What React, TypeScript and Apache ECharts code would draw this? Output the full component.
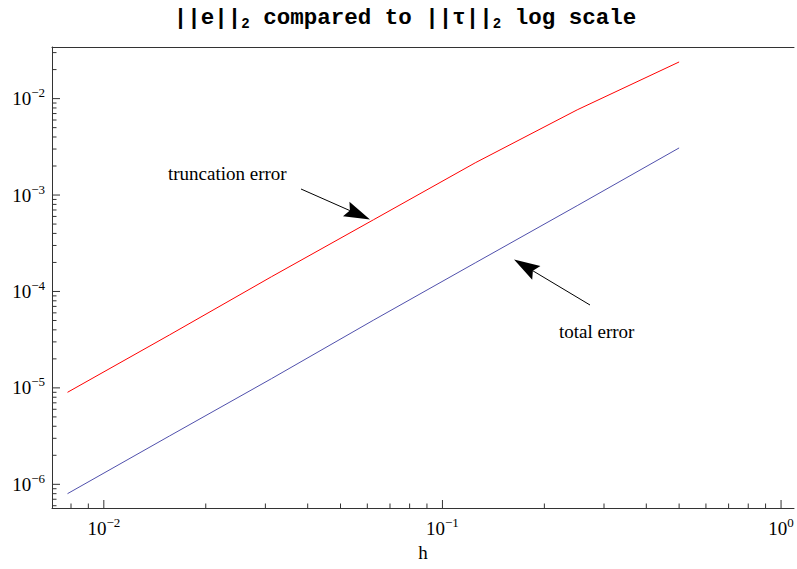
import React, { useEffect, useRef } from 'react';
import * as echarts from 'echarts';

// step sizes h and the two error norms
const H = [0.0078125, 0.015625, 0.03125, 0.0625, 0.125, 0.25, 0.5];
const TRUNCATION_ERROR = [9.0e-6, 3.54e-5, 1.42e-4, 5.53e-4, 2.16e-3, 7.65e-3, 0.024];
const TOTAL_ERROR = [8.0e-7, 3.17e-6, 1.245e-5, 5.03e-5, 1.98e-4, 7.76e-4, 3.08e-3];

const X_MIN = 0.00703;
const X_MAX = 1.092;
const Y_MIN = 5.68e-7;
const Y_MAX = 0.0343;

const X_DECADES = [0.001, 0.01, 0.1, 1];
const Y_DECADES = [1e-7, 1e-6, 1e-5, 1e-4, 1e-3, 1e-2];
const MINOR_MULTS = [2, 3, 4, 5, 6, 7, 8, 9];

const TITLE = '{m|||e||}{s|2}{m| compared to ||τ||}{s|2}{m| log scale}';
const X_NAME = 'h';
const LABEL_TRUNC = 'truncation error';
const LABEL_TOTAL = 'total error';

const AXIS_COLOR = '#333333';
const SERIF = '"Liberation Serif", "Times New Roman", serif';
const MONO = '"Liberation Mono", "Courier New", monospace';

function ticksIn(decades: number[], lo: number, hi: number) {
  const out: [number, number][] = []; // [value, length]
  decades.forEach((d) => {
    if (d >= lo && d <= hi) out.push([d, 8]);
    MINOR_MULTS.forEach((m) => {
      const v = m * d;
      if (v >= lo && v <= hi) out.push([v, 4.5]);
    });
  });
  return out;
}

const fmt = (v: number) => {
  const l = Math.log10(v);
  const r = Math.round(l);
  if (Math.abs(l - r) > 1e-6) return '';
  return `{b|10}{s|${r < 0 ? '\u2212' : ''}${Math.abs(r)}}`;
};

const labelRich = {
  b: { fontFamily: SERIF, fontSize: 19, color: '#000' },
  s: { fontFamily: SERIF, fontSize: 13, color: '#000', padding: [0, 0, 12, 0] },
};

function arrow(tail: [number, number], tip: [number, number]) {
  const dx = tip[0] - tail[0];
  const dy = tip[1] - tail[1];
  const len = Math.hypot(dx, dy);
  const ux = dx / len, uy = dy / len;
  const L = 26, W = 8;
  const bx = tip[0] - L * ux, by = tip[1] - L * uy;
  const nx = -uy, ny = ux;
  return [
    { type: 'line', shape: { x1: tail[0], y1: tail[1], x2: bx + ux * 4, y2: by + uy * 4 }, style: { stroke: '#000', lineWidth: 1 } },
    {
      type: 'polygon',
      shape: { points: [tip, [bx + W * nx, by + W * ny], [bx + ux * 4, by + uy * 4], [bx - W * nx, by - W * ny]] },
      style: { fill: '#000' },
    },
  ];
}

export default function App() {
  const ref = useRef<HTMLDivElement>(null);
  useEffect(() => {
    if (!ref.current) return;
    const chart = echarts.init(ref.current, undefined, { renderer: 'svg' });
    const xTicks = ticksIn(X_DECADES, X_MIN, X_MAX).map(([v, l]) => [v, 1e-3, l]);
    const yTicks = ticksIn(Y_DECADES, Y_MIN, Y_MAX).map(([v, l]) => [0.1, v, l]);
    chart.setOption({
      animation: false,
      backgroundColor: '#ffffff',
      grid: { left: 52, right: 0, top: 47, bottom: 61 },
      xAxis: [
        {
          type: 'log',
          min: X_MIN,
          max: X_MAX,
          name: X_NAME,
          nameLocation: 'middle',
          nameGap: 32,
          nameTextStyle: { fontFamily: SERIF, fontSize: 19, color: '#000' },
          axisLine: { show: true, onZero: false, lineStyle: { color: AXIS_COLOR, width: 1 } },
          axisTick: { show: false },
          splitLine: { show: false },
          minorTick: { show: false },
          axisLabel: { formatter: fmt, rich: labelRich, margin: 8, showMinLabel: true, showMaxLabel: true, hideOverlap: false },
        },
        {
          type: 'log',
          min: X_MIN,
          max: X_MAX,
          position: 'top',
          axisLine: { show: true, onZero: false, lineStyle: { color: AXIS_COLOR, width: 1 } },
          axisTick: { show: false },
          axisLabel: { show: false },
          splitLine: { show: false },
        },
      ],
      yAxis: {
        type: 'log',
        min: Y_MIN,
        max: Y_MAX,
        axisLine: { show: true, onZero: false, lineStyle: { color: AXIS_COLOR, width: 1 } },
        axisTick: { show: false },
        splitLine: { show: false },
        axisLabel: { formatter: fmt, rich: labelRich, margin: 7 },
      },
      series: [
        {
          name: LABEL_TRUNC,
          type: 'line',
          data: H.map((h, i) => [h, TRUNCATION_ERROR[i]]),
          showSymbol: false,
          symbol: 'none',
          lineStyle: { color: '#ff0000', width: 1 },
          itemStyle: { color: '#ff0000' },
        },
        {
          name: LABEL_TOTAL,
          type: 'line',
          data: H.map((h, i) => [h, TOTAL_ERROR[i]]),
          showSymbol: false,
          symbol: 'none',
          lineStyle: { color: '#5050ac', width: 1 },
          itemStyle: { color: '#5050ac' },
        },
        {
          type: 'custom',
          silent: true,
          clip: false,
          data: xTicks,
          renderItem: (params: any, api: any) => {
            const cs = params.coordSys;
            const x = api.coord([api.value(0), api.value(1)])[0];
            const len = api.value(2);
            const bottom = cs.y + cs.height;
            return {
              type: 'line',
              shape: { x1: x, y1: bottom, x2: x, y2: bottom - len },
              style: { stroke: AXIS_COLOR, lineWidth: 1 },
            };
          },
        },
        {
          type: 'custom',
          silent: true,
          clip: false,
          data: yTicks,
          renderItem: (params: any, api: any) => {
            const cs = params.coordSys;
            const y = api.coord([api.value(0), api.value(1)])[1];
            const len = api.value(2);
            return {
              type: 'line',
              shape: { x1: cs.x, y1: y, x2: cs.x + len, y2: y },
              style: { stroke: AXIS_COLOR, lineWidth: 1 },
            };
          },
        },
      ],
      graphic: [
        {
          type: 'text',
          x: 405,
          y: 18,
          style: {
            text: TITLE,
            align: 'center',
            verticalAlign: 'middle',
            textAlign: 'center',
            textVerticalAlign: 'middle',
            rich: {
              m: { fontFamily: MONO, fontWeight: 'bold', fontSize: 22.5, color: '#000' },
              s: { fontFamily: MONO, fontWeight: 'bold', fontSize: 14, color: '#000', padding: [12, 0, 0, 0] },
            },
          },
        },
        {
          type: 'text',
          x: 168,
          y: 173,
          style: { text: LABEL_TRUNC, fontFamily: SERIF, fontSize: 19, fill: '#000', verticalAlign: 'middle', textVerticalAlign: 'middle' },
        },
        {
          type: 'text',
          x: 559,
          y: 331,
          style: { text: LABEL_TOTAL, fontFamily: SERIF, fontSize: 19, fill: '#000', verticalAlign: 'middle', textVerticalAlign: 'middle' },
        },
        ...arrow([301, 189], [370, 219.5]),
        ...arrow([590, 305], [514, 259.5]),
      ],
    });
    return () => chart.dispose();
  }, []);
  return <div ref={ref} style={{ position: 'fixed', left: 0, top: 0, width: 797, height: 569 }} />;
}
